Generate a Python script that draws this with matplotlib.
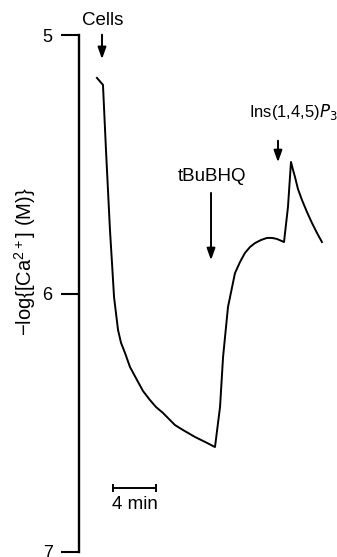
import matplotlib.pyplot as plt

plt.rcParams['font.family'] = ['Liberation Sans', 'DejaVu Sans']

# trace: time (min) and -log[Ca2+]
time = [1.67, 2.23, 2.51, 2.88, 3.07, 3.26, 3.63, 3.91, 4.28, 4.74, 5.40,
        5.95, 6.60, 7.16, 7.81, 8.93, 9.67, 10.79, 11.91, 12.65, 13.12,
        13.40, 13.86, 14.51, 14.98, 15.44, 15.91, 16.37, 16.93, 17.49,
        17.95, 18.42, 19.07, 19.44, 19.72, 19.91, 20.09, 20.37, 20.74,
        21.21, 21.67, 22.14, 22.60]
pca = [5.166, 5.193, 5.445, 5.754, 5.882, 6.014, 6.141, 6.191, 6.230, 6.284,
       6.335, 6.377, 6.412, 6.439, 6.462, 6.509, 6.528, 6.555, 6.578, 6.594,
       6.439, 6.246, 6.052, 5.921, 5.878, 5.843, 5.820, 5.805, 5.793, 5.785,
       5.785, 5.789, 5.801, 5.665, 5.491, 5.522, 5.549, 5.596, 5.638, 5.685,
       5.727, 5.766, 5.801]

yticks = [5, 6, 7]
additions = ['Cells', 'tBuBHQ', 'Ins(1,4,5)$P_3$']
add_times = [2.14, 12.28, 18.51]
scale_min = 4

fig = plt.figure(figsize=(3.37, 5.57), dpi=100)
ax = fig.add_axes([79 / 337, 5 / 557, 258 / 337, 517 / 557])

ax.plot(time, pca, color='black', lw=1.4, solid_joinstyle='round')

ax.set_xlim(0, 24)
ax.set_ylim(7, 5)
ax.set_yticks(yticks)
ax.set_yticklabels([str(v) for v in yticks], fontsize=13)
ax.tick_params(axis='y', direction='out', length=13, width=1.5, pad=6)
ax.set_xticks([])
for s in ['top', 'right', 'bottom']:
    ax.spines[s].set_visible(False)
ax.spines['left'].set_linewidth(1.7)

fig.text(25 / 337, 1 - 262 / 557,
         '\u2212log{[Ca$\\mathregular{^{2+}}$] (M)}',
         rotation=90, ha='center', va='center', fontsize=14.5)

# addition arrows
arrow_kw = dict(arrowstyle='-|>,head_length=0.7,head_width=0.25',
                color='black', lw=1.4)
ax.annotate('', xy=(add_times[0], 5.104), xytext=(add_times[0], 4.988),
            arrowprops=arrow_kw, annotation_clip=False)
ax.text(add_times[0] + 0.1, 4.942, additions[0], ha='center', va='center',
        fontsize=13.5, clip_on=False)

ax.annotate('', xy=(add_times[1], 5.882), xytext=(add_times[1], 5.600),
            arrowprops=arrow_kw)
ax.text(add_times[1] + 0.1, 5.549, additions[1], ha='center', va='center',
        fontsize=13.5)

ax.annotate('', xy=(add_times[2], 5.503), xytext=(add_times[2], 5.398),
            arrowprops=arrow_kw)
ax.text(15.81, 5.298, additions[2], ha='left', va='center', fontsize=12)

# time scale bar
ax.plot([3.16, 3.16 + scale_min], [6.752, 6.752], color='black', lw=1.4,
        marker='|', markersize=6, markeredgewidth=1.4)
ax.text(3.16 + scale_min / 2, 6.818, f'{scale_min} min', ha='center',
        va='center', fontsize=13.5)

fig.savefig('out.png', dpi=100)
